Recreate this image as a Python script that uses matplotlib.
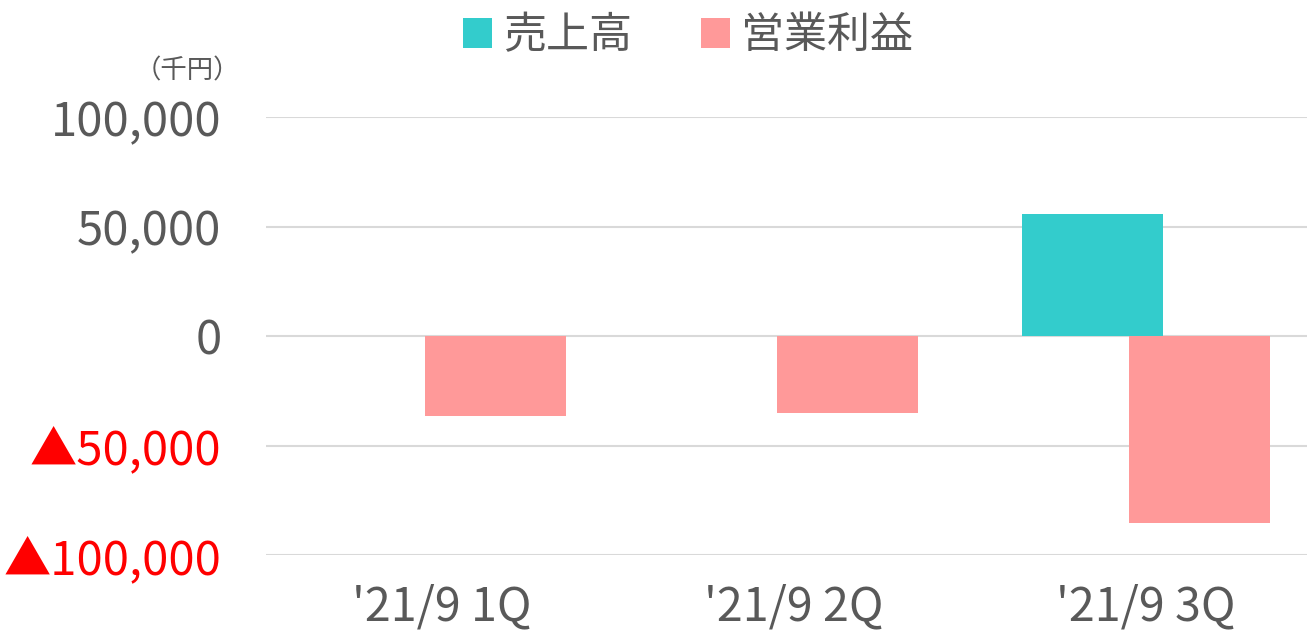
#!/usr/bin/env python3
# Quarterly sales / operating profit bar chart (thousand yen)

import matplotlib
matplotlib.use("Agg")
from matplotlib import pyplot as plt
from matplotlib.patches import Patch
import numpy as np

plt.rcParams["font.family"] = ["Noto Sans CJK JP", "DejaVu Sans"]

# Data
quarters = ["'21/9 1Q", "'21/9 2Q", "'21/9 3Q"]
sales = [0, 0, 55800]
operatingProfit = [-36500, -35300, -85500]
yTicks = [-100000, -50000, 0, 50000, 100000]
seriesNames = ["売上高", "営業利益"]

teal = "#33CCCC"
pink = "#FF9999"
gray = "#595959"

px = 1/100
fig = plt.figure(figsize=(1307*px, 638*px), dpi=100)
# plot area runs slightly past the right edge of the picture, as in the original
ax = fig.add_axes([266/1307, 83/638, 1056/1307, 438/638])

x = np.arange(len(quarters))
barWidth = 0.403
offset = 0.152
ax.bar(x - offset, sales, width=barWidth, color=teal, zorder=3)
ax.bar(x + offset, operatingProfit, width=barWidth, color=pink, zorder=2)

ax.set_xlim(-0.5, len(quarters) - 0.5)
ax.set_ylim(yTicks[0], yTicks[-1])
ax.set_yticks(yTicks)
labels = []
for v in yTicks:
    if v < 0:
        labels.append("▲{:,}".format(-v))
    else:
        labels.append("{:,}".format(v))
ax.set_yticklabels(labels)
for lbl, v in zip(ax.get_yticklabels(), yTicks):
    lbl.set_color("#FF0000" if v < 0 else gray)
ax.set_xticks(x)
ax.set_xticklabels(quarters, color=gray)
ax.tick_params(axis="y", length=0, labelsize=34, pad=32)
ax.tick_params(axis="x", length=0, labelsize=33.5, pad=20)

# Gridlines, no spines
ax.grid(axis="y", color="#D9D9D9", linewidth=1.5, zorder=0)
ax.set_axisbelow(True)
for s in ax.spines.values():
    s.set_visible(False)

# Unit label
fig.text(240/1307, 1 - 71/638, "（千円）", ha="right", va="center", fontsize=19, color=gray)

# Legend across the top
handles = [Patch(facecolor=teal), Patch(facecolor=pink)]
fig.legend(handles, seriesNames, loc="center", bbox_to_anchor=(688/1307, 1 - 36/638), ncol=2,
           frameon=False, fontsize=31, labelcolor=gray, handlelength=0.68, handleheight=0.68,
           handletextpad=0.25, columnspacing=1.6)

fig.savefig("out.png", dpi=100)
plt.close(fig)
